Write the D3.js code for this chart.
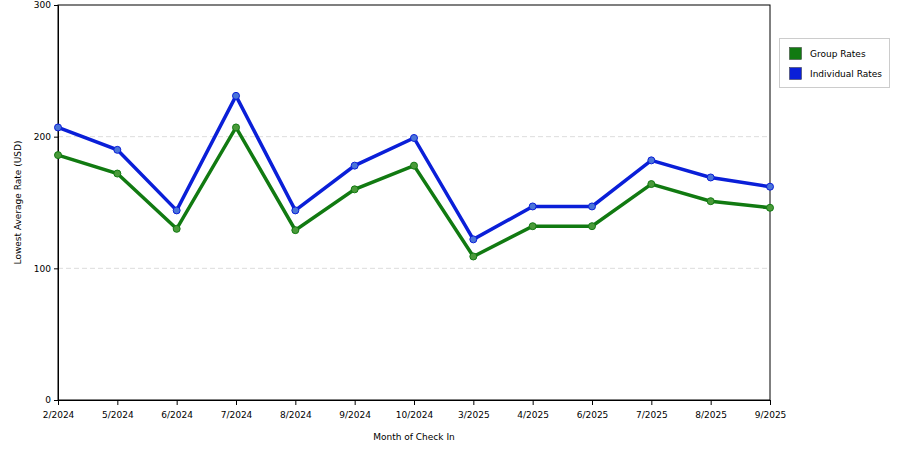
<!DOCTYPE html>
<html><head><meta charset="utf-8">
<script src="https://cdn.jsdelivr.net/npm/d3@7"></script>
<style>body{margin:0;background:#fff}text{font-family:"DejaVu Sans",sans-serif;font-size:9px;fill:#000}</style>
</head><body>
<svg id="chart" width="900" height="450"></svg>
<script>
const months = ["2/2024","5/2024","6/2024","7/2024","8/2024","9/2024","10/2024","3/2025","4/2025","6/2025","7/2025","8/2025","9/2025"];
const groupRates = [186, 172, 130, 207, 129, 160, 178, 109, 132, 132, 164, 151, 146];
const individualRates = [207, 190, 144, 231, 144, 178, 199, 122, 147, 147, 182, 169, 162];
const yTicks = [0, 100, 200, 300];

const svg = d3.select("#chart");
const margin = { top: 5, left: 58, right: 770, bottom: 400 };

const x = d3.scalePoint().domain(months).range([margin.left, margin.right]);
const y = d3.scaleLinear().domain([0, 300]).range([margin.bottom, margin.top]);

// grid
svg.selectAll(".grid").data([100, 200]).enter().append("line")
	.attr("x1", margin.left).attr("x2", margin.right)
	.attr("y1", d => y(d)).attr("y2", d => y(d))
	.attr("stroke", "#ddd").attr("stroke-dasharray", "5,3");

// frame
svg.append("rect").attr("x", margin.left).attr("y", margin.top)
	.attr("width", margin.right - margin.left).attr("height", margin.bottom - margin.top)
	.attr("fill", "none").attr("stroke", "#000").attr("stroke-width", 1);

const yAxis = svg.append("g").attr("transform", `translate(${margin.left},0)`)
	.call(d3.axisLeft(y).tickValues(yTicks).tickSize(4));
const xAxis = svg.append("g").attr("transform", `translate(0,${margin.bottom})`)
	.call(d3.axisBottom(x).tickSize(5));
[xAxis, yAxis].forEach(a => { a.select(".domain").attr("stroke", "#000"); a.selectAll("text").style("font-size", "9px").attr("fill", "#000"); });
xAxis.selectAll("text").attr("dy", "1.1em");

svg.append("text").attr("x", (margin.left + margin.right) / 2).attr("y", 440).attr("text-anchor", "middle").text("Month of Check In");
svg.append("text").attr("transform", `translate(21,${(margin.top + margin.bottom) / 2}) rotate(-90)`).attr("text-anchor", "middle").text("Lowest Average Rate (USD)");

const line = d3.line().x((d, i) => x(months[i])).y(d => y(d));
[[groupRates, "#117a11", "#4a9a3a"], [individualRates, "#0a1fd8", "#4a74d8"]].forEach(([data, c, pc]) => {
	svg.append("path").datum(data).attr("d", line).attr("fill", "none").attr("stroke", c).attr("stroke-width", 3.5);
	svg.selectAll(null).data(data).enter().append("circle")
		.attr("cx", (d, i) => x(months[i])).attr("cy", d => y(d)).attr("r", 3.5)
		.attr("fill", pc).attr("stroke", c).attr("stroke-width", 1);
});

// legend
const lg = svg.append("g");
lg.append("rect").attr("x", 779.5).attr("y", 38.5).attr("width", 110).attr("height", 49).attr("fill", "#fff").attr("stroke", "#ccc");
[["Group Rates", "#117a11"], ["Individual Rates", "#0a1fd8"]].forEach(([t, c], i) => {
	lg.append("rect").attr("x", 789.5).attr("y", 47.5 + i * 20).attr("width", 12).attr("height", 12).attr("fill", c).attr("stroke", "#333").attr("stroke-width", 0.5);
	lg.append("text").attr("x", 810).attr("y", 57 + i * 20).text(t);
});
</script>
</body></html>
